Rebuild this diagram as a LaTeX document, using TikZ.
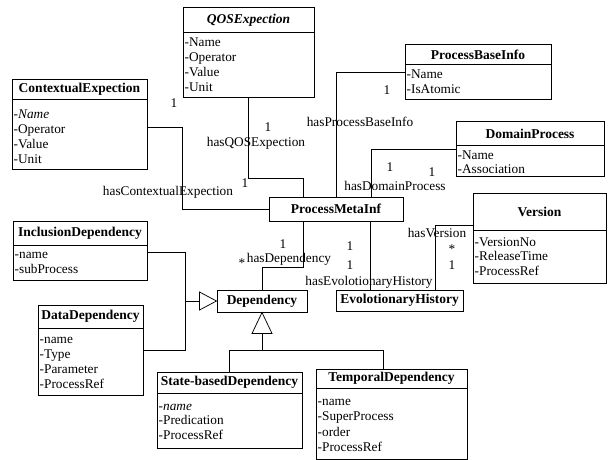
\documentclass[tikz,border=0pt]{standalone}
\usepackage{fontspec}
\setmainfont{Liberation Serif}
\usetikzlibrary{fit,calc}
\tikzset{
  box/.style={draw, line width=1pt, inner sep=0pt},
  conn/.style={line width=0.75pt},
  sepline/.style={line width=0.85pt},
  ttl/.style={font=\fontsize{13.5}{15}\selectfont\bfseries, inner sep=0pt},
  attr/.style={font=\fontsize{13.3}{15}\selectfont, anchor=base west, inner sep=0pt},
  lbl/.style={font=\fontsize{13.3}{15}\selectfont, inner sep=0pt},
}
\newcommand\umlclass[7]{%
  \node[box, fit={(#2,#3) (#4,#6)}] (#1) {};
  \node[ttl] (#1-t) at ({(#2+#4)/2},{(#3+#5)/2}) {#7};
  \draw[sepline] (#2,#5) -- (#4,#5);
}
\newcommand\umlattrs[5]{%
  \foreach \t [count=\i] in {#5} {\node[attr] (#1-\i) at ({#2+1.5},{#3+(\i-1)*#4}) {\t};}
}
\newcommand\umlsimple[6]{%
  \node[box, fit={(#2,#3) (#4,#5)}] (#1) {};
  \node[ttl] (#1-t) at (#1.center) {#6};
}
\begin{document}
\begin{tikzpicture}[x=1pt,y=-1pt]
\useasboundingbox (0,0) rectangle (614,460);
% classes
\umlclass{qos}{183}{8}{314}{32}{98}{\itshape QOSExpection}
\umlattrs{qos}{183}{47}{15}{-Name,-Operator,-Value,-Unit}
\umlclass{ce}{12}{80}{147}{99}{169}{ContextualExpection}
\umlattrs{ce}{12}{119}{15}{\textit{-Name},-Operator,-Value,-Unit}
\umlclass{pbi}{405}{45}{551}{64}{100}{ProcessBaseInfo}
\umlattrs{pbi}{405}{79}{15}{-Name,-IsAtomic}
\umlclass{dp}{456}{122}{604}{145}{176}{DomainProcess}
\umlattrs{dp}{456}{159}{15}{-Name,-Association}
\umlclass{ver}{473}{193}{606}{230}{283}{Version}
\umlattrs{ver}{473}{246}{14.5}{-VersionNo,-ReleaseTime,-ProcessRef}
\umlsimple{pmi}{269}{197}{403}{221}{ProcessMetaInf}
\umlsimple{eh}{336}{290}{463}{311}{EvolotionaryHistory}
\umlsimple{dep}{217}{290}{307}{312}{Dependency}
\umlclass{inc}{13}{221}{147}{245}{280}{InclusionDependency}
\umlattrs{inc}{13}{258}{15.5}{-name,-subProcess}
\umlclass{dd}{38}{305}{143}{328}{395}{DataDependency}
\umlattrs{dd}{38}{343}{15}{-name,-Type,-Parameter,-ProcessRef}
\umlclass{sbd}{157}{372}{302}{393}{448}{State-basedDependency}
\umlattrs{sbd}{157}{410}{14.5}{\textit{-name},-Predication,-ProcessRef}
\umlclass{td}{316}{369}{467}{388}{459}{TemporalDependency}
\umlattrs{td}{316}{405}{15.5}{-name,-SuperProcess,-order,-ProcessRef}
% associations
\draw[conn] (ce.east |- 0,127) -| (182,209) -- (pmi.west |- 0,209);
\draw[conn] (qos.south -| 248,0) |- (303,178) -- (pmi.north -| 303,0);
\draw[conn] (pbi.west |- 0,72) -| (pmi.north -| 336,0);
\draw[conn] (dp.west |- 0,149) -| (pmi.north -| 371,0);
\draw[conn] (pmi.south -| 303,0) |- (262,267) -- (dep.north -| 262,0);
\draw[conn] (pmi.south -| 370,0) -- (eh.north -| 370,0);
\draw[conn] (ver.west |- 0,225) -| (eh.north -| 435,0);
% generalizations
\coordinate (gj) at (185,0 |- dep.west);
\draw[conn] (inc.east |- 0,252) -| (185,350) -- (dd.east |- 0,350);
\draw[conn] (gj) -- ($(dep.west)+(-17,0)$);
\draw[conn, fill=white] (dep.west) -- ++(-17,-9) -- ++(0,18) -- cycle;
\draw[conn, fill=white] (dep.south -| 262,0) -- ++(-10,21) -- ++(20,0) -- cycle;
\draw[conn] (262,333) -- (262,350);
\draw[conn] (sbd.north -| 229,0) -- (229,350) -- (383,350) -- (td.north -| 383,0);
% labels
\node[lbl] (l-ce) at (168,192) {hasContextualExpection};
\node[lbl] (m-ce1) at (174,103) {1};
\node[lbl] (m-ce2) at (245,183) {1};
\node[lbl] (l-qos) at (256,143) {hasQOSExpection};
\node[lbl] (m-qos) at (268,127) {1};
\node[lbl] (l-pbi) at (360,122) {hasProcessBaseInfo};
\node[lbl] (m-pbi) at (387,90) {1};
\node[lbl] (l-dp) at (395,186) {hasDomainProcess};
\node[lbl] (m-dp1) at (390,167) {1};
\node[lbl] (m-dp2) at (432,172) {1};
\node[lbl] (l-dep) at (289,259) {hasDependency};
\node[lbl] (m-dep1) at (242,263) {*};
\node[lbl] (m-dep2) at (283,244) {1};
\node[lbl] (l-eh) at (369,282) {hasEvolotionaryHistory};
\node[lbl] (m-eh1) at (350,246) {1};
\node[lbl] (m-eh2) at (350,265) {1};
\node[lbl] (l-ver) at (437,233) {hasVersion};
\node[lbl] (m-ver1) at (452,249) {*};
\node[lbl] (m-ver2) at (452,265) {1};
\end{tikzpicture}
\end{document}
